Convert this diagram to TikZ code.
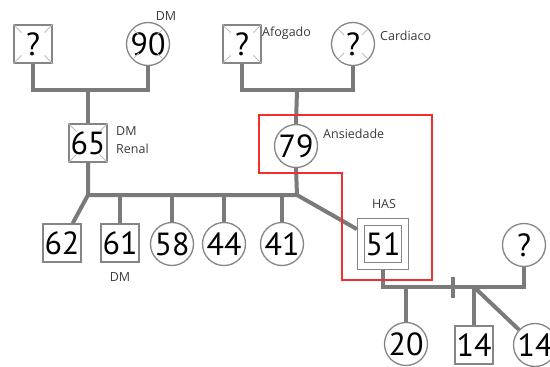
\documentclass[tikz,border=0pt]{standalone}
\usepackage{fontspec}
\setmainfont{PT Sans}
\newfontfamily\labfont{Open Sans}
\usetikzlibrary{calc}
\definecolor{shapec}{HTML}{858585}
\definecolor{lineg}{HTML}{7A7A7A}
\definecolor{xc}{HTML}{BDBDBD}
\definecolor{labc}{HTML}{3A3A3A}
\definecolor{redc}{HTML}{F03030}
\newcommand{\bignum}{\fontsize{32}{32}\selectfont}
\newcommand{\smalltxt}{\labfont\fontsize{12.5}{13}\selectfont}
\tikzset{
  sq/.style={draw=shapec, line width=1.3pt, rectangle, minimum size=38pt, inner sep=0pt, font=\bignum},
  ci/.style={draw=shapec, line width=1.3pt, circle, minimum size=43pt, inner sep=0pt, font=\bignum},
  conn/.style={draw=lineg, line width=4pt},
  xmark/.style={draw=xc, line width=0.9pt},
  lab/.style={font=\smalltxt, text=labc, inner sep=0pt},
  redbox/.style={draw=redc, line width=1.4pt}
}
\begin{document}
\begin{tikzpicture}[x=1pt,y=-1pt]
\useasboundingbox (0,0) rectangle (550,367);
% nodes
\node[sq] (q1) at (33,44) {?};
\node[ci] (n90) at (148,44) {90};
\node[sq] (n65) at (88,143) {65};
\node[sq] (q2) at (242,44) {?};
\node[ci] (q3) at (353,44) {?};
\node[ci] (n79) at (296,146) {79};
\node[sq] (n62) at (62,243) {62};
\node[sq] (n61) at (120,243) {61};
\node[ci] (n58) at (172,244) {58};
\node[ci] (n44) at (224,244) {44};
\node[ci] (n41) at (282,244) {41};
\node[sq, minimum size=51pt] (n51) at (383,244) {};
\node[sq, minimum size=37pt] (n51i) at (383,244) {51};
\node[ci] (q4) at (524,245) {?};
\node[ci] (n20) at (406,344) {20};
\node[sq] (n14s) at (474,345) {14};
\node[ci] (n14c) at (535,345) {14};
% deceased marks
\foreach \n in {q1,n90,n65,q2,q3}{
  \foreach \a in {45,135,225,315}{
    \draw[xmark] (\n.\a) -- ($(\n.\a)!0.42!(\n.center)$);
  }
}
% labels
\node[lab] (l90) at (166,16) {DM};
\node[lab, anchor=west] (l65a) at (116,131) {DM};
\node[lab, anchor=west] (l65b) at (116,149) {Renal};
\node[lab, anchor=west] (lafo) at (262,33) {Afogado};
\node[lab, anchor=west] (lcar) at (380,36) {Cardiaco};
\node[lab, anchor=west] (lans) at (323,134) {Ansiedade};
\node[lab] (lhas) at (384,204) {HAS};
\node[lab] (l61) at (120,277) {DM};
% connectors
\coordinate (m1) at (88,90);
\coordinate (m2) at (297,90);
\coordinate (s1) at (88,195);
\coordinate (s2) at (297,195);
\coordinate (m3) at (383,287);
\coordinate (m4) at (524,287);
\coordinate (c2) at (474,287);
\coordinate (t1) at (453,277);
\coordinate (t2) at (453,298);
\draw[conn] (q1.south) |- (m1) -| (n90.south);
\draw[conn] (m1) -- (n65.north);
\draw[conn] (q2.south) |- (m2) -| (q3.south);
\draw[conn] (m2) -- (n79.north);
\draw[conn] (n65.south) -- (s1) -- (s2) -- (n79.south);
\draw[conn] (s1) -- (n62);
\draw[conn] (n61.north) -- (n61.north |- s1);
\draw[conn] (n58.north) -- (n58.north |- s1);
\draw[conn] (n44.north) -- (n44.north |- s1);
\draw[conn] (n41.north) -- (n41.north |- s1);
\draw[conn] (s2) -- (n51);
\draw[conn] (n51.south) -- (m3) -- (m4) -- (q4.south);
\draw[conn] (t1) -- (t2);
\draw[conn] (n20.north) -- (n20.north |- m3);
\draw[conn] (n14s.north) -- (c2);
\draw[conn] (c2) -- (n14c);
% highlight
\draw[redbox] (259,115) -- (432,115) -- (432,280) -- (342,280) -- (342,173) -- (259,173) -- cycle;
\end{tikzpicture}
\end{document}
